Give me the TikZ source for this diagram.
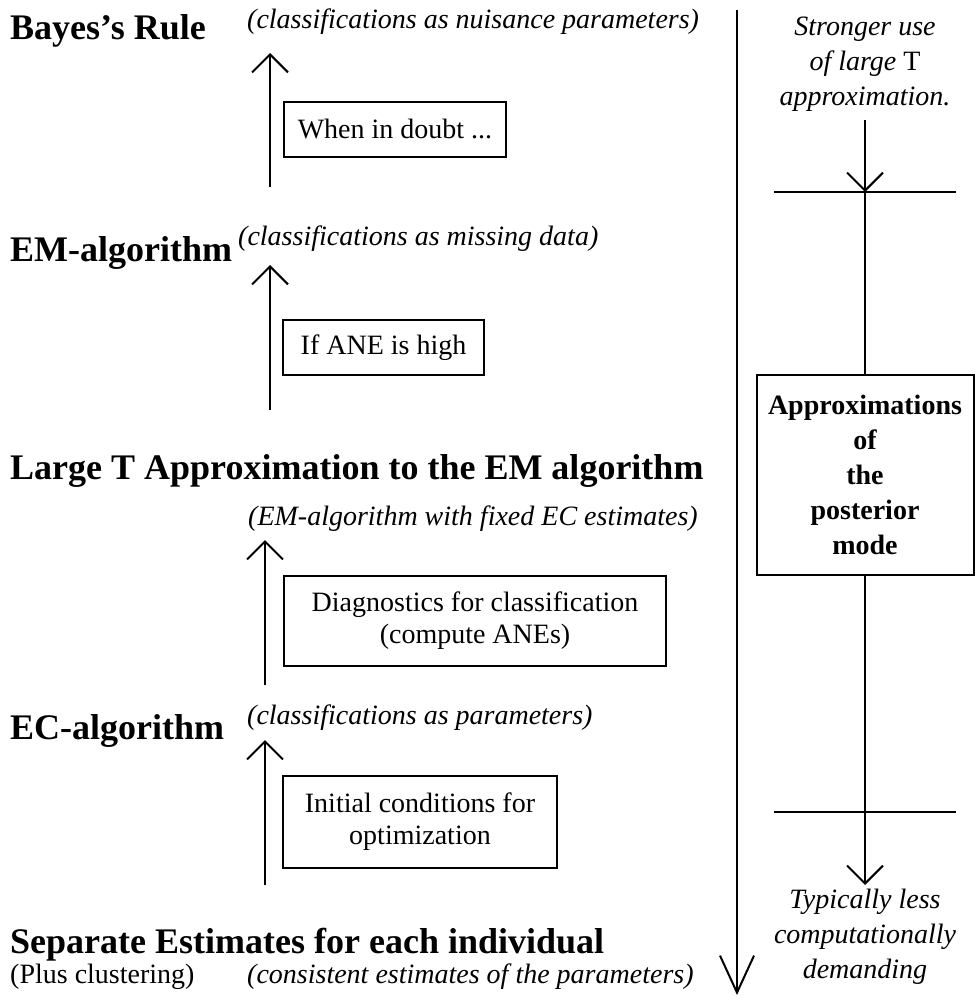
\documentclass[tikz,border=0pt]{standalone}
\usepackage{fontspec}
\setmainfont{Liberation Serif}
\usetikzlibrary{arrows.meta}
\begin{document}
\begin{tikzpicture}[x=1pt,y=-1pt,
  head/.style={font=\fontsize{36}{40}\selectfont\bfseries, anchor=base west, inner sep=0pt},
  note/.style={font=\fontsize{28}{35}\selectfont\itshape, anchor=base west, inner sep=0pt},
  plain/.style={font=\fontsize{28}{35}\selectfont, anchor=base west, inner sep=0pt},
  boxed/.style={draw, line width=2pt, inner sep=0pt, align=center, font=\fontsize{28}{32}\selectfont},
  side/.style={font=\fontsize{28}{35}\selectfont\itshape, align=center, inner sep=0pt},
  arr/.style={line width=2pt, -{Straight Barb[length=18pt,width=36pt,line width=2pt]}},
  longarr/.style={line width=2pt, -{Straight Barb[length=37pt,width=34pt,line width=2pt]}},
  bar/.style={line width=2pt}
]
\useasboundingbox (0,0) rectangle (974,998);

% left column headings
\node[head] (bayes) at (10,40) {Bayes’s Rule};
\node[note] (n1) at (247,29) {(classifications as nuisance parameters)};
\node[head] (em) at (10,261) {EM-algorithm};
\node[note] (n2) at (238,245) {(classifications as missing data)};
\node[head] (large) at (10,479) {Large T Approximation to the EM algorithm};
\node[note] (n3) at (248,525) {(EM-algorithm with fixed EC estimates)};
\node[head] (ec) at (10,739) {EC-algorithm};
\node[note] (n4) at (247,724) {(classifications as parameters)};
\node[head] (sep) at (10,953) {Separate Estimates for each individual};
\node[plain] (plus) at (10,983) {(Plus clustering)};
\node[note] (n5) at (247,983) {(consistent estimates of the parameters)};

% boxes
\node[boxed, minimum width=222pt, minimum height=55pt] (b1) at (395,129) {When in doubt ...};
\node[boxed, minimum width=201pt, minimum height=55pt] (b2) at (383.5,347.5) {If ANE is high};
\node[boxed, minimum width=382pt, minimum height=90pt] (b3) at (475,621) {Diagnostics for classification\\(compute ANEs)};
\node[boxed, minimum width=274pt, minimum height=92pt] (b4) at (420,822) {Initial conditions for\\optimization};

% up arrows
\coordinate (a1s) at (270,187); \coordinate (a1e) at (270,53);
\coordinate (a2s) at (270,410); \coordinate (a2e) at (270,265);
\coordinate (a3s) at (265,685); \coordinate (a3e) at (265,540);
\coordinate (a4s) at (265,885); \coordinate (a4e) at (265,740);
\draw[arr] (a1s) -- (a1e);
\draw[arr] (a2s) -- (a2e);
\draw[arr] (a3s) -- (a3e);
\draw[arr] (a4s) -- (a4e);

% right column
\coordinate (L0) at (737,10); \coordinate (L1) at (737,995);
\draw[longarr] (L0) -- (L1);

\node[side] (strong) at (865,64.5) {Stronger use\\of large \textup{T}\\approximation.};
\node[side] (typ) at (865,936.5) {Typically less\\computationally\\demanding};

\node[boxed, font=\fontsize{28}{35}\selectfont\bfseries, minimum width=217pt, minimum height=200pt] (big) at (865,475) {Approximations\\of\\the\\posterior\\mode};

\coordinate (v0) at (865,120); \coordinate (v1) at (865,192); \coordinate (v2) at (865,885);
\draw[arr] (v0) -- (v1);
\draw[bar] (v1) -- (big.north);
\draw[arr] (big.south) -- (v2);

\coordinate (c1l) at (774,192); \coordinate (c1r) at (956,192);
\coordinate (c2l) at (774,812); \coordinate (c2r) at (956,812);
\draw[bar] (c1l) -- (c1r);
\draw[bar] (c2l) -- (c2r);
\end{tikzpicture}
\end{document}
